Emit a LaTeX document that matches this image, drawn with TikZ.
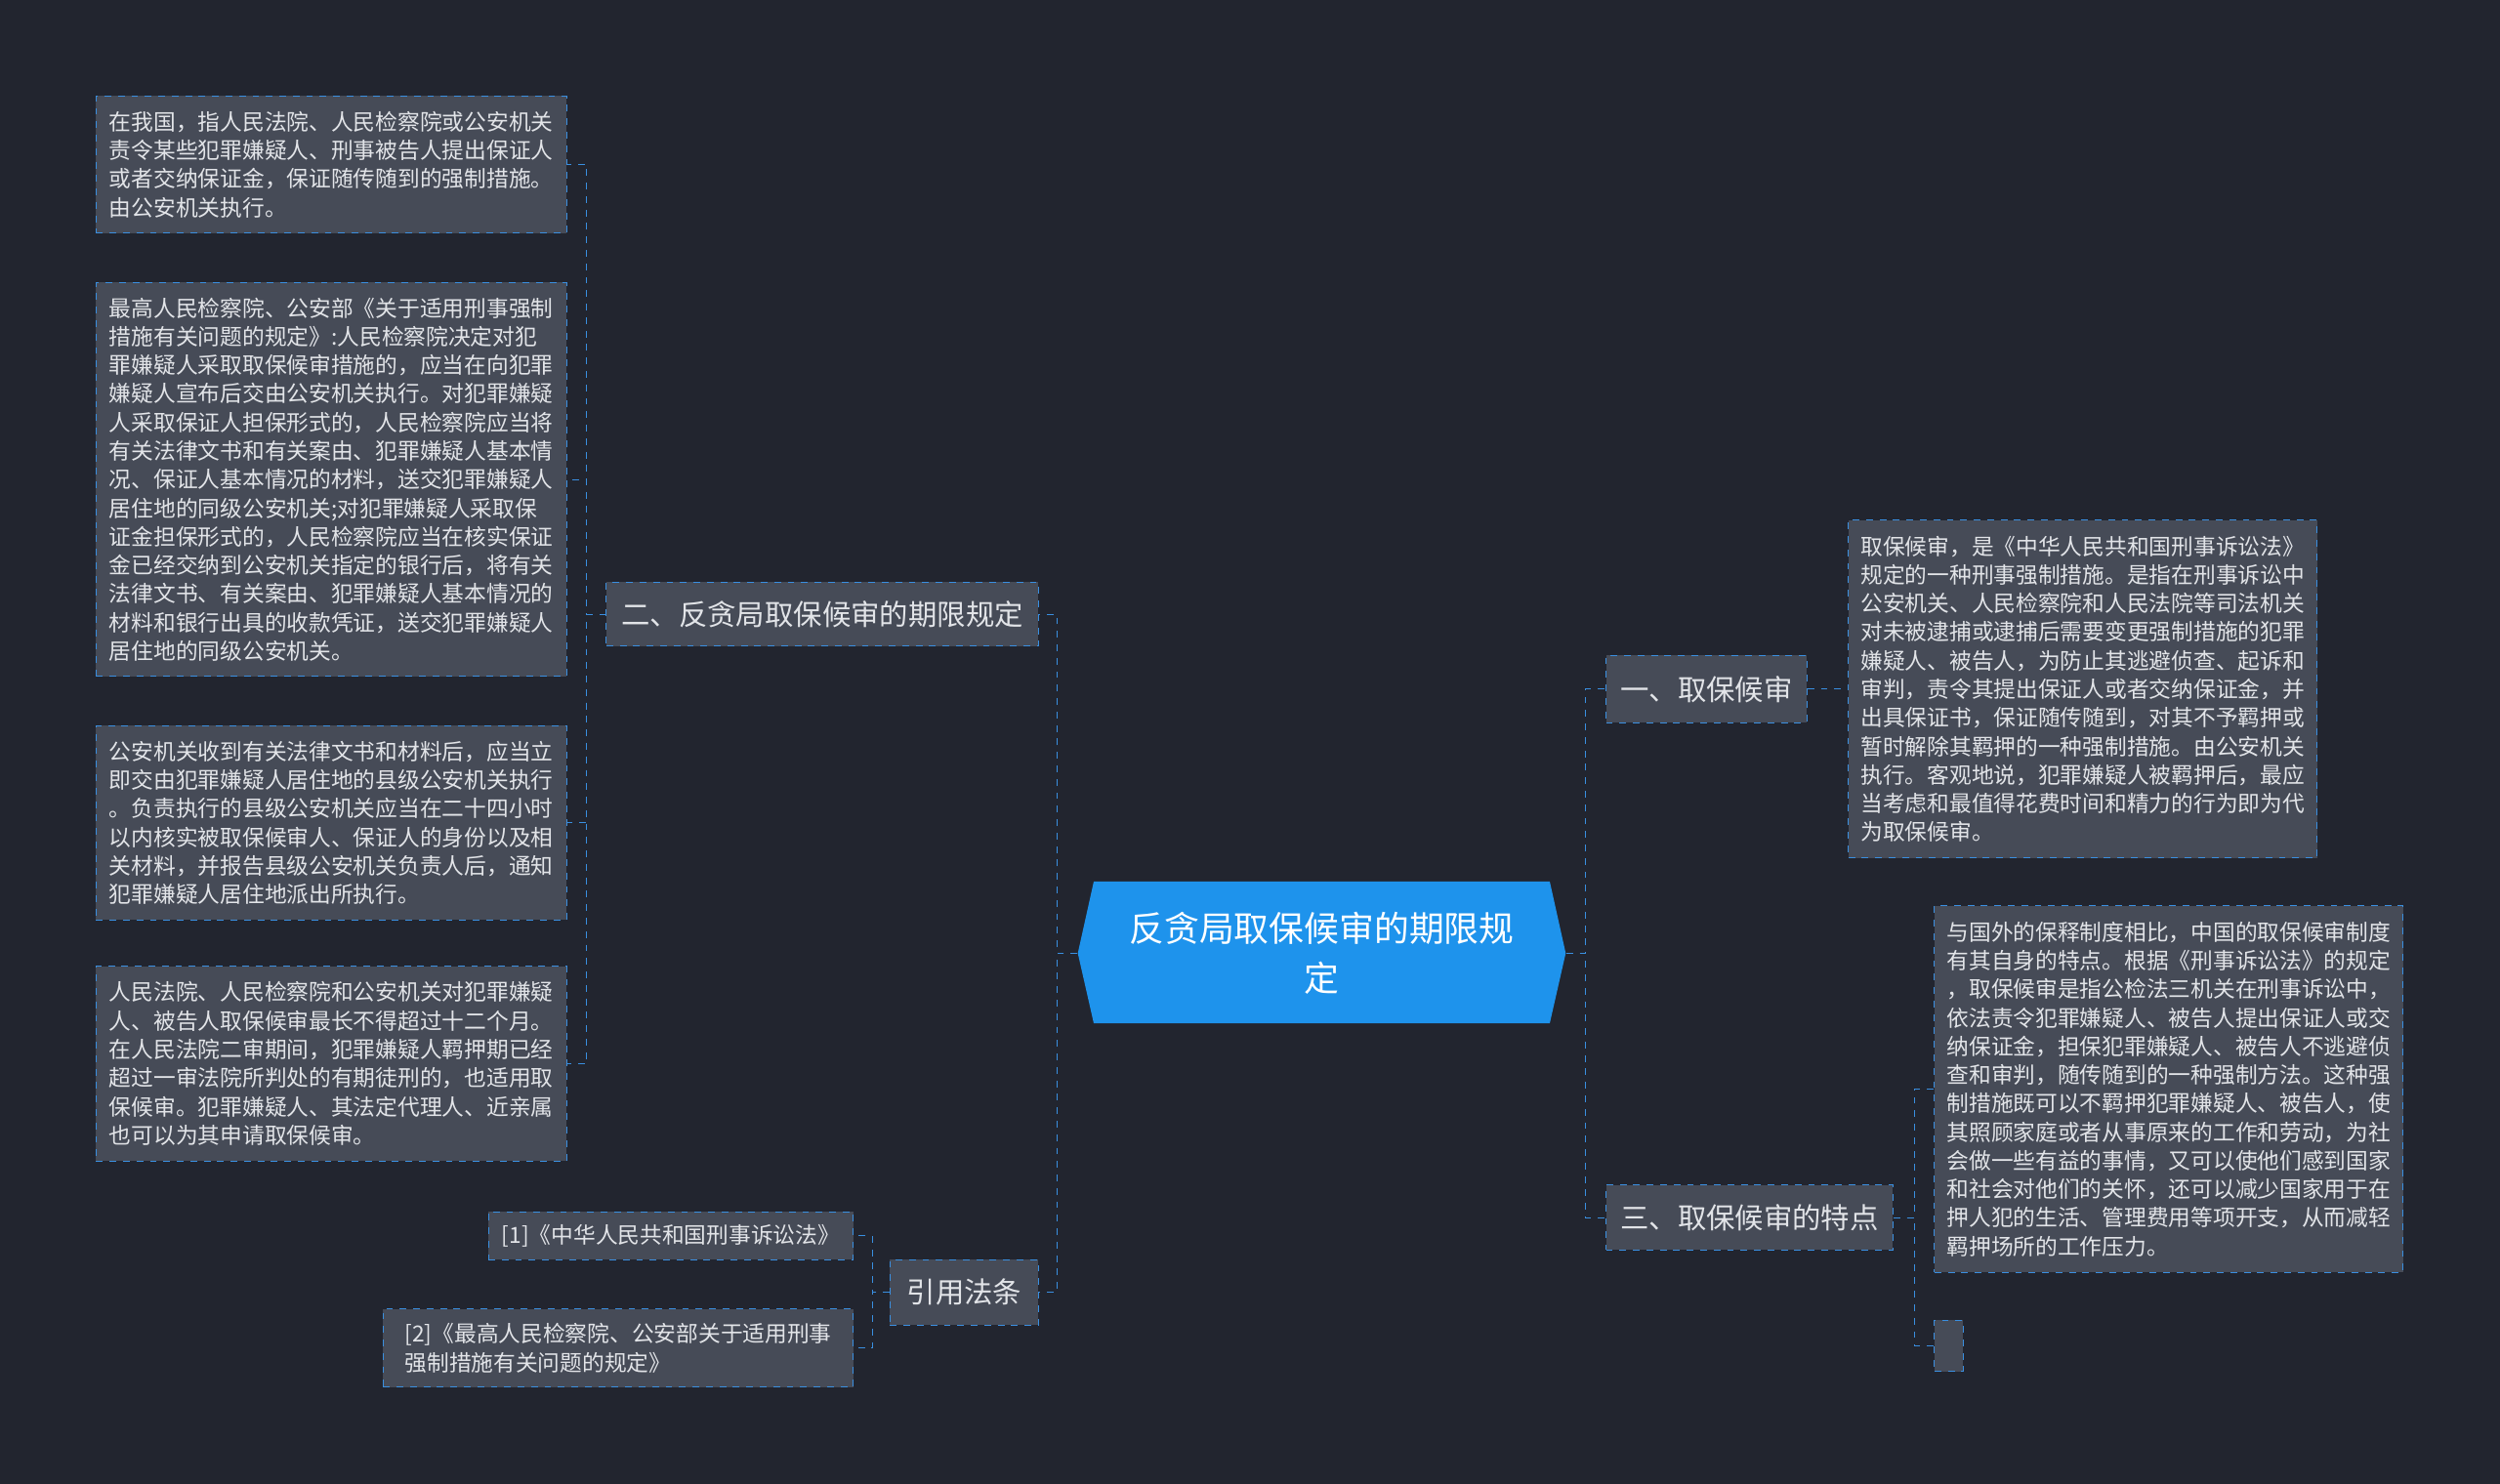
\documentclass[tikz,border=0pt]{standalone}
\usepackage{fontspec}
\setmainfont{Noto Sans CJK SC}
\definecolor{bgc}{HTML}{22252F}
\definecolor{boxc}{HTML}{464B57}
\definecolor{linec}{HTML}{3A8FE0}
\definecolor{txtc}{HTML}{E2E4E8}
\definecolor{rootc}{HTML}{1E93EC}
\tikzset{
  leaf/.style={draw=linec, dashed, fill=boxc, text=txtc, anchor=north west, align=left,
    inner sep=0pt, font=\fontsize{9.9}{12.75}\selectfont},
  branch/.style={draw=linec, dashed, fill=boxc, text=txtc, anchor=north west,
    inner sep=0pt, font=\fontsize{12.8}{15}\selectfont},
  link/.style={draw=linec, dashed, thin}
}
\begin{document}
\begin{tikzpicture}[x=0.025cm, y=-0.025cm]
  \fill[bgc] (0,0) rectangle (1568,931);
  \useasboundingbox (0,0) rectangle (1568,931);

  % root
  \fill[rootc] (686,553) -- (972,553) -- (982,598) -- (972,642) -- (686,642) -- (676,598) -- cycle;
  \node[text=white, align=center, minimum width=306*0.025cm, minimum height=89*0.025cm, inner sep=0pt,
    font=\fontsize{15.6}{22}\selectfont] (root) at (829,598) {反贪局取保候审的期限规\\定};

  % left side
  \node[branch, minimum width=271*0.025cm, minimum height=40*0.025cm] (b2) at (380,365) {二、反贪局取保候审的期限规定};
  \node[branch, minimum width=93*0.025cm, minimum height=41*0.025cm] (cite) at (558,790) {引用法条};

  \node[leaf, minimum width=295*0.025cm, minimum height=86*0.025cm] (l1) at (60,60) {在我国，指人民法院、人民检察院或公安机关\\责令某些犯罪嫌疑人、刑事被告人提出保证人\\或者交纳保证金，保证随传随到的强制措施。\\由公安机关执行。};
  \node[leaf, minimum width=295*0.025cm, minimum height=247*0.025cm] (l2) at (60,177) {最高人民检察院、公安部《关于适用刑事强制\\措施有关问题的规定》:人民检察院决定对犯\\罪嫌疑人采取取保候审措施的，应当在向犯罪\\嫌疑人宣布后交由公安机关执行。对犯罪嫌疑\\人采取保证人担保形式的，人民检察院应当将\\有关法律文书和有关案由、犯罪嫌疑人基本情\\况、保证人基本情况的材料，送交犯罪嫌疑人\\居住地的同级公安机关;对犯罪嫌疑人采取保\\证金担保形式的，人民检察院应当在核实保证\\金已经交纳到公安机关指定的银行后，将有关\\法律文书、有关案由、犯罪嫌疑人基本情况的\\材料和银行出具的收款凭证，送交犯罪嫌疑人\\居住地的同级公安机关。};
  \node[leaf, minimum width=295*0.025cm, minimum height=122*0.025cm] (l3) at (60,455) {公安机关收到有关法律文书和材料后，应当立\\即交由犯罪嫌疑人居住地的县级公安机关执行\\。负责执行的县级公安机关应当在二十四小时\\以内核实被取保候审人、保证人的身份以及相\\关材料，并报告县级公安机关负责人后，通知\\犯罪嫌疑人居住地派出所执行。};
  \node[leaf, minimum width=295*0.025cm, minimum height=122*0.025cm] (l4) at (60,606) {人民法院、人民检察院和公安机关对犯罪嫌疑\\人、被告人取保候审最长不得超过十二个月。\\在人民法院二审期间，犯罪嫌疑人羁押期已经\\超过一审法院所判处的有期徒刑的，也适用取\\保候审。犯罪嫌疑人、其法定代理人、近亲属\\也可以为其申请取保候审。};

  \node[leaf, minimum width=229*0.025cm, minimum height=30*0.025cm] (ref1) at (306,760) {[1]《中华人民共和国刑事诉讼法》};
  \node[leaf, minimum width=295*0.025cm, minimum height=49*0.025cm] (ref2) at (240,821) {[2]《最高人民检察院、公安部关于适用刑事\\强制措施有关问题的规定》};

  % right side
  \node[branch, minimum width=126*0.025cm, minimum height=42*0.025cm] (b1) at (1007,411) {一、取保候审};
  \node[branch, minimum width=180*0.025cm, minimum height=41*0.025cm] (b3) at (1007,743) {三、取保候审的特点};

  \node[leaf, minimum width=294*0.025cm, minimum height=212*0.025cm] (r1) at (1159,326) {取保候审，是《中华人民共和国刑事诉讼法》\\规定的一种刑事强制措施。是指在刑事诉讼中\\公安机关、人民检察院和人民法院等司法机关\\对未被逮捕或逮捕后需要变更强制措施的犯罪\\嫌疑人、被告人，为防止其逃避侦查、起诉和\\审判，责令其提出保证人或者交纳保证金，并\\出具保证书，保证随传随到，对其不予羁押或\\暂时解除其羁押的一种强制措施。由公安机关\\执行。客观地说，犯罪嫌疑人被羁押后，最应\\当考虑和最值得花费时间和精力的行为即为代\\为取保候审。};
  \node[leaf, minimum width=294*0.025cm, minimum height=230*0.025cm] (r2) at (1213,568) {与国外的保释制度相比，中国的取保候审制度\\有其自身的特点。根据《刑事诉讼法》的规定\\，取保候审是指公检法三机关在刑事诉讼中，\\依法责令犯罪嫌疑人、被告人提出保证人或交\\纳保证金，担保犯罪嫌疑人、被告人不逃避侦\\查和审判，随传随到的一种强制方法。这种强\\制措施既可以不羁押犯罪嫌疑人、被告人，使\\其照顾家庭或者从事原来的工作和劳动，为社\\会做一些有益的事情，又可以使他们感到国家\\和社会对他们的关怀，还可以减少国家用于在\\押人犯的生活、管理费用等项开支，从而减轻\\羁押场所的工作压力。};
  \node[leaf, minimum width=18*0.025cm, minimum height=32*0.025cm] (r3) at (1213,828) {};

  % connectors
  \draw[link] (root.west) -- ++(-13,0) |- (b2.east);
  \draw[link] (root.west) -- ++(-13,0) |- (cite.east);
  \foreach \leafname in {l1,l2,l3,l4}
    \draw[link] (b2.west) -- ++(-12,0) |- (\leafname.east);
  \foreach \leafname in {ref1,ref2}
    \draw[link] (cite.west) -- ++(-11,0) |- (\leafname.east);
  \draw[link] (root.east) -- ++(12,0) |- (b1.west);
  \draw[link] (root.east) -- ++(12,0) |- (b3.west);
  \draw[link] (b1.east) -- (r1.west);
  \foreach \leafname in {r2,r3}
    \draw[link] (b3.east) -- ++(13,0) |- (\leafname.west);
\end{tikzpicture}
\end{document}
